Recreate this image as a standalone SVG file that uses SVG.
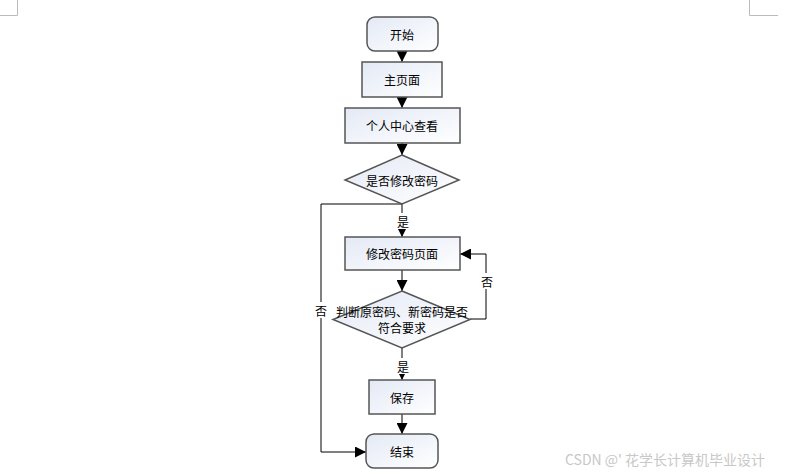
<svg xmlns="http://www.w3.org/2000/svg" width="804" height="475" viewBox="0 0 804 475">
<defs>
<linearGradient id="g" x1="0" y1="0" x2="1" y2="1">
<stop offset="0" stop-color="#e3e9f5"/>
<stop offset="1" stop-color="#ffffff"/>
</linearGradient>
<marker id="ah" markerWidth="11" markerHeight="11" viewBox="0 0 11 11" refX="11" refY="5.5" orient="auto" markerUnits="userSpaceOnUse">
<path d="M0,0 L11,5.5 L0,11 Z" fill="#000"/>
</marker>
</defs>
<style>
.n{fill:url(#g);stroke:#555;stroke-width:1.5}
.t{font-family:"Noto Sans CJK SC","Liberation Sans",sans-serif;font-size:12px;fill:#000;text-anchor:middle;dominant-baseline:central}
.c{fill:none;stroke:#000;stroke-width:1;marker-end:url(#ah)}
.bg{fill:#fff}
.m{fill:none;stroke:#bbb;stroke-width:1}
</style>
<rect width="804" height="475" fill="#fff"/>
<path class="m" d="M0,15.5 H17.5 V0"/>
<path class="m" d="M749.5,0 V15.5 H778"/>
<g id="connectors">
<path class="c" d="M402,51 V62"/>
<path class="c" d="M402,97 V108"/>
<path class="c" d="M402,143 V155"/>
<path class="c" d="M402,204 V237"/>
<path class="c" d="M402,204 H321 V452 H366"/>
<path class="c" d="M402,270 V291"/>
<path class="c" d="M470,319 H486 V254 H460"/>
<path class="c" d="M402,348 V380"/>
<path class="c" d="M402,414 V434"/>
<rect class="bg" x="395" y="213" width="15" height="16"/>
<text class="t" x="403" y="221">是</text>
<rect class="bg" x="314" y="302" width="15" height="16"/>
<text class="t" x="321" y="310">否</text>
<rect class="bg" x="480" y="273" width="15" height="16"/>
<text class="t" x="487" y="281">否</text>
<rect class="bg" x="395" y="358" width="15" height="16"/>
<text class="t" x="403" y="366">是</text>
</g>
<g id="start"><rect class="n" x="367" y="17" width="71" height="34" rx="8"/><text class="t" x="402" y="34">开始</text></g>
<g id="home"><rect class="n" x="362" y="62" width="80" height="35"/><text class="t" x="402" y="79.5">主页面</text></g>
<g id="center"><rect class="n" x="345" y="108" width="115" height="35"/><text class="t" x="402" y="125.5">个人中心查看</text></g>
<g id="d1"><path class="n" d="M402,155 L459,180 L402,204 L345,180 Z"/><text class="t" x="402" y="180">是否修改密码</text></g>
<g id="page"><rect class="n" x="345" y="237" width="115" height="33"/><text class="t" x="402" y="253.5">修改密码页面</text></g>
<g id="d2"><path class="n" d="M402,291 L470,319.5 L402,348 L333,319.5 Z"/><text class="t" x="402" y="311">判断原密码、新密码是否</text><text class="t" x="402" y="327">符合要求</text></g>
<g id="save"><rect class="n" x="369" y="380" width="66" height="34"/><text class="t" x="402" y="397">保存</text></g>
<g id="end"><rect class="n" x="366" y="434" width="72" height="34" rx="8"/><text class="t" x="402" y="451">结束</text></g>
<text x="565" y="465" font-family="'Noto Sans CJK SC','Liberation Sans',sans-serif" font-size="14" fill="#c8c8c8">CSDN @' 花学长计算机毕业设计</text>
</svg>
